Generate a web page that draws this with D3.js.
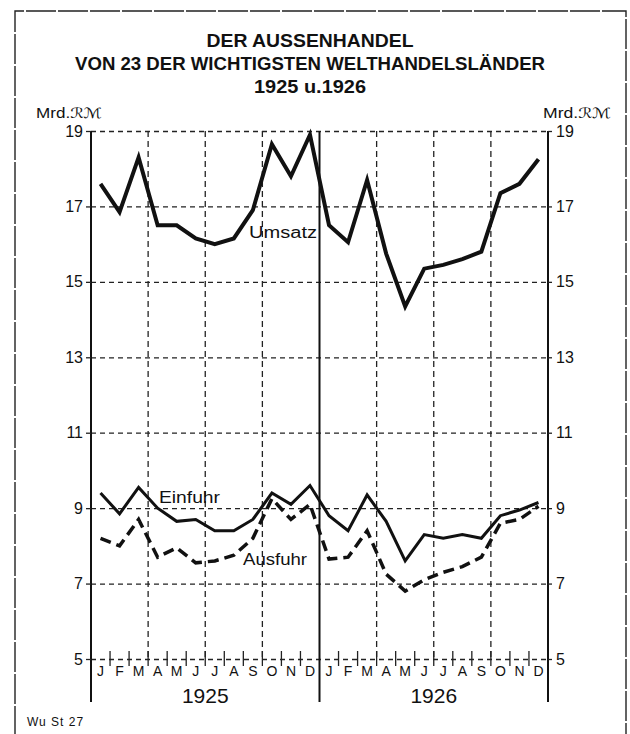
<!DOCTYPE html>
<html>
<head>
<meta charset="utf-8">
<script src="https://cdn.jsdelivr.net/npm/d3@7"></script>
<style>
  body { margin: 0; background: #fff; }
  text { font-family: "Liberation Sans", "DejaVu Sans", sans-serif; fill: #111; }
</style>
</head>
<body>
<div id="chart"></div>
<script>
// months, two years
var monthLetters = ["J","F","M","A","M","J","J","A","S","O","N","D"];
var years = ["1925", "1926"];
var yTicks = [5, 7, 9, 11, 13, 15, 17, 19];

// Mrd. RM per month, Jan 1925 .. Dec 1926
var umsatz = [17.6, 16.85, 18.3, 16.5, 16.5, 16.15, 16.0, 16.15, 16.9, 18.65, 17.8, 18.9,
              16.5, 16.05, 17.7, 15.75, 14.35, 15.35, 15.45, 15.6, 15.8, 17.35, 17.6, 18.25];
var einfuhr = [9.4, 8.85, 9.55, 9.0, 8.65, 8.7, 8.4, 8.4, 8.7, 9.4, 9.1, 9.6,
               8.8, 8.4, 9.35, 8.65, 7.6, 8.3, 8.2, 8.3, 8.2, 8.8, 8.95, 9.15];
var ausfuhr = [8.2, 8.0, 8.7, 7.7, 7.95, 7.55, 7.6, 7.75, 8.2, 9.25, 8.7, 9.1,
               7.65, 7.7, 8.4, 7.25, 6.8, 7.1, 7.3, 7.45, 7.7, 8.6, 8.7, 9.05];

var width = 630, height = 734;
var pLeft = 91, pRight = 548, pTop = 131, pBottom = 659, axisEnd = 702;

var svg = d3.select("#chart").append("svg")
    .attr("width", width)
    .attr("height", height);

var x = d3.scaleLinear().domain([0, 24]).range([pLeft, pRight]);
var xBand = d3.scaleBand().domain(d3.range(24)).range([pLeft, pRight]);
var y = d3.scaleLinear().domain([5, 19]).range([pBottom, pTop]);

// outer frame
svg.append("path")
    .attr("d", "M15," + (height + 2) + "V11H626V" + (height + 2))
    .style("fill", "none")
    .style("stroke", "#222")
    .style("stroke-width", 1.4)
    .style("stroke-dasharray", "30,2");

// title
var title = svg.append("g").attr("font-weight", "bold").attr("text-anchor", "middle");
title.append("text").attr("x", 310).attr("y", 47).attr("font-size", 18)
    .attr("textLength", 207).attr("lengthAdjust", "spacingAndGlyphs")
    .text("DER AUSSENHANDEL");
title.append("text").attr("x", 310).attr("y", 69.5).attr("font-size", 18)
    .attr("textLength", 470).attr("lengthAdjust", "spacingAndGlyphs")
    .text("VON 23 DER WICHTIGSTEN WELTHANDELSLÄNDER");
title.append("text").attr("x", 310).attr("y", 92.5).attr("font-size", 18)
    .attr("textLength", 112).attr("lengthAdjust", "spacingAndGlyphs")
    .text("1925 u.1926");

// unit labels
svg.append("text").attr("x", 36).attr("y", 118).attr("font-size", 14)
    .attr("textLength", 66).attr("lengthAdjust", "spacingAndGlyphs").text("Mrd.ℛℳ");
svg.append("text").attr("x", 543).attr("y", 118).attr("font-size", 14)
    .attr("textLength", 68).attr("lengthAdjust", "spacingAndGlyphs").text("Mrd.ℛℳ");

// horizontal grid
svg.append("g")
    .attr("transform", "translate(" + pLeft + ",0)")
    .call(d3.axisLeft(y).tickValues(yTicks).tickSize(-(pRight - pLeft)).tickFormat(""))
    .call(function(g) { g.select(".domain").remove(); })
    .selectAll("line")
    .style("stroke", "#222")
    .style("stroke-width", 1.3)
    .style("stroke-dasharray", "5,4");

// vertical grid every quarter
svg.append("g")
    .selectAll("line")
    .data([3, 6, 9, 15, 18, 21])
    .enter()
    .append("line")
    .attr("x1", function(d) { return x(d); })
    .attr("x2", function(d) { return x(d); })
    .attr("y1", pTop)
    .attr("y2", pBottom)
    .style("stroke", "#222")
    .style("stroke-width", 1.3)
    .style("stroke-dasharray", "6,4");

// solid axes and year divider
svg.append("g")
    .selectAll("line")
    .data([0, 12, 24])
    .enter()
    .append("line")
    .attr("x1", function(d) { return x(d); })
    .attr("x2", function(d) { return x(d); })
    .attr("y1", pTop)
    .attr("y2", axisEnd)
    .style("stroke", "#111")
    .style("stroke-width", 2);

// y labels both sides
var yLeft = svg.append("g")
    .attr("transform", "translate(" + pLeft + ",0)")
    .call(d3.axisLeft(y).tickValues(yTicks).tickSize(5).tickPadding(3));
var yRight = svg.append("g")
    .attr("transform", "translate(" + pRight + ",0)")
    .call(d3.axisRight(y).tickValues(yTicks).tickSize(4).tickPadding(4));
[yLeft, yRight].forEach(function(g) {
    g.select(".domain").remove();
    g.selectAll("line").style("stroke", "#222").style("stroke-width", 1.3);
    g.selectAll("text").attr("font-size", 16).style("font-family", "Liberation Sans, sans-serif");
});

// month crosses on the base line
svg.append("g")
    .selectAll("line")
    .data(d3.range(1, 24).filter(function(d) { return d !== 12; }))
    .enter()
    .append("line")
    .attr("x1", function(d) { return x(d); })
    .attr("x2", function(d) { return x(d); })
    .attr("y1", pBottom - 8)
    .attr("y2", pBottom + 7)
    .style("stroke", "#222")
    .style("stroke-width", 1.3);

// month letters
var xAxis = svg.append("g")
    .attr("transform", "translate(0," + (pBottom + 4) + ")")
    .call(d3.axisBottom(xBand).tickSize(0).tickPadding(3)
        .tickFormat(function(d) { return monthLetters[d % 12]; }));
xAxis.select(".domain").remove();
xAxis.selectAll("text").attr("font-size", 14).style("font-family", "Liberation Sans, sans-serif");

// years
svg.append("g")
    .selectAll("text")
    .data(years)
    .enter()
    .append("text")
    .attr("x", function(d, i) { return x(i * 12 + 6); })
    .attr("y", 703)
    .attr("text-anchor", "middle")
    .attr("font-size", 21)
    .text(function(d) { return d; });

// series
var line = d3.line()
    .x(function(d, i) { return x(i + 0.5); })
    .y(function(d) { return y(d); });

svg.append("path").datum(umsatz).attr("d", line)
    .style("fill", "none").style("stroke", "#111").style("stroke-width", 4)
    .style("stroke-linejoin", "miter");
svg.append("path").datum(einfuhr).attr("d", line)
    .style("fill", "none").style("stroke", "#111").style("stroke-width", 3);
svg.append("path").datum(ausfuhr).attr("d", line)
    .style("fill", "none").style("stroke", "#111").style("stroke-width", 3.5)
    .style("stroke-dasharray", "11,6");

// series labels
var labels = svg.append("g").attr("font-size", 16);
labels.append("text").attr("x", 249).attr("y", 238)
    .attr("textLength", 68).attr("lengthAdjust", "spacingAndGlyphs").text("Umsatz");
labels.append("text").attr("x", 159).attr("y", 503)
    .attr("textLength", 61).attr("lengthAdjust", "spacingAndGlyphs").text("Einfuhr");
labels.append("text").attr("x", 243).attr("y", 565)
    .attr("textLength", 64).attr("lengthAdjust", "spacingAndGlyphs").text("Ausfuhr");

// source note
svg.append("text").attr("x", 27).attr("y", 726).attr("font-size", 12)
    .attr("letter-spacing", 1).text("Wu St 27");
</script>
</body>
</html>
